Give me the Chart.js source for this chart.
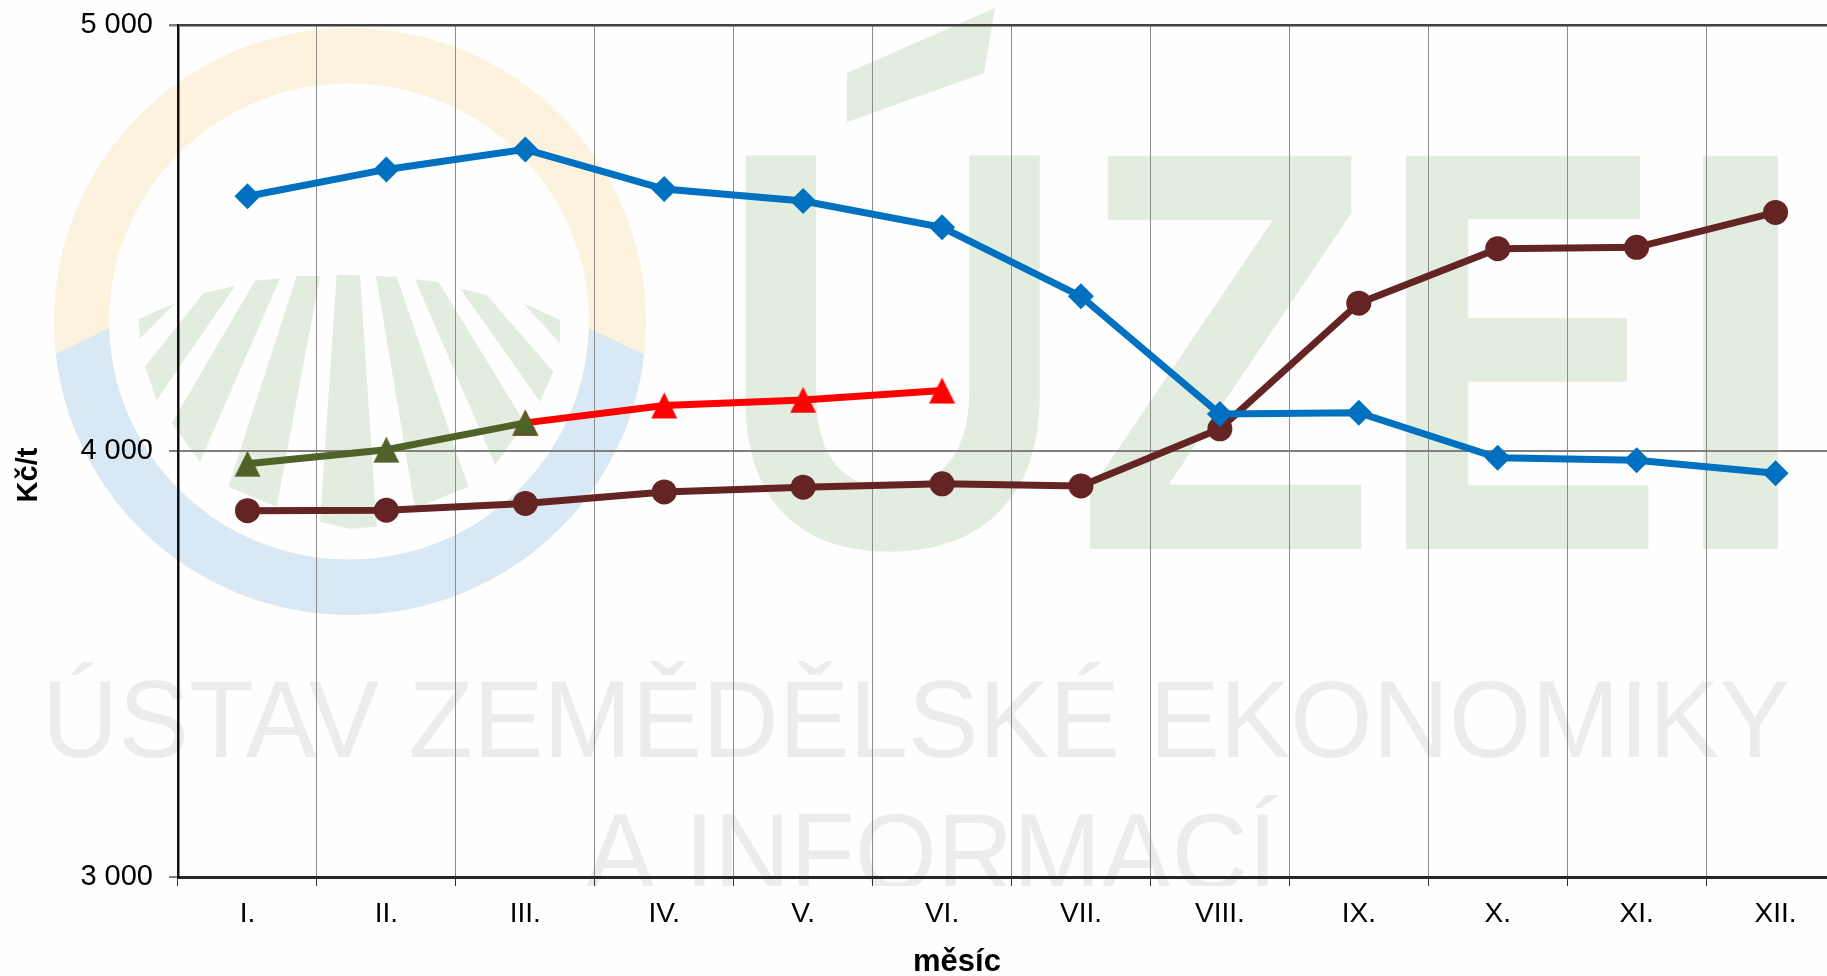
<!DOCTYPE html>
<html lang="cs">
<head>
<meta charset="utf-8">
<title>Kč/t podle měsíců</title>
<script src="https://cdn.jsdelivr.net/npm/chart.js@4"></script>
<style>
html,body{margin:0;padding:0;background:#fff;width:1827px;height:976px;overflow:hidden}
canvas{display:block}
</style>
</head>
<body>
<canvas id="c" width="1860" height="976" style="width:1860px;height:976px"></canvas>
<script>
const months = ['I.','II.','III.','IV.','V.','VI.','VII.','VIII.','IX.','X.','XI.','XII.'];
const blueValues  = [4598,4661,4708,4615,4587,4525,4363,4087,4090,3984,3978,3948];
const brownValues = [3860,3861,3877,3904,3915,3923,3918,4052,4347,4475,4478,4560];
const greenValues = [3970,4003,4066,null,null,null,null,null,null,null,null,null];
const redValues   = [null,null,4066,4107,4120,4142,null,null,null,null,null,null];
const yTickLabels = {3000:'3 000',4000:'4 000',5000:'5 000'};
const xTitle = 'měsíc';
const yTitle = 'Kč/t';

const FONT = '"Liberation Sans", Arial, sans-serif';

function triangleMarker(color){
  const c = document.createElement('canvas');
  c.width = 27; c.height = 27;
  const g = c.getContext('2d');
  g.fillStyle = color;
  g.beginPath(); g.moveTo(13.5,0.5); g.lineTo(26.5,26.5); g.lineTo(0.5,26.5); g.closePath(); g.fill();
  return c;
}

function fitGlyph(ctx, text, x0, y0, x1, y1, font){
  ctx.save();
  ctx.font = font;
  ctx.textAlign = 'left';
  ctx.textBaseline = 'alphabetic';
  const m = ctx.measureText(text);
  const w = m.actualBoundingBoxRight + m.actualBoundingBoxLeft;
  const h = m.actualBoundingBoxAscent + m.actualBoundingBoxDescent;
  ctx.translate(x0, y0);
  ctx.scale((x1-x0)/w, (y1-y0)/h);
  ctx.fillText(text, m.actualBoundingBoxLeft, m.actualBoundingBoxAscent);
  ctx.restore();
}

function poly(ctx, pts){
  ctx.beginPath();
  pts.forEach((p,i)=> i ? ctx.lineTo(p[0],p[1]) : ctx.moveTo(p[0],p[1]));
  ctx.closePath();
  ctx.fill();
}

const watermark = {
  id:'watermark',
  beforeDraw(chart){
    const ctx = chart.ctx;
    ctx.save();
    ctx.fillStyle = '#fefefe';
    ctx.fillRect(0,0,chart.width,chart.height);

    const ring = ()=>{
      ctx.beginPath();
      ctx.ellipse(350,321.5,296,293.5,0,0,Math.PI*2);
      ctx.ellipse(349,321.5,240,238,0,0,Math.PI*2,true);
    };
    ctx.fillStyle = '#fdf2de';
    ring(); ctx.fill('evenodd');
    ctx.save();
    ctx.beginPath();
    ctx.moveTo(30,367); ctx.lineTo(54,355); ctx.lineTo(109,328); ctx.lineTo(130,320);
    ctx.lineTo(570,320); ctx.lineTo(588,328); ctx.lineTo(646,355); ctx.lineTo(670,367);
    ctx.lineTo(670,640); ctx.lineTo(30,640); ctx.closePath();
    ctx.clip();
    ctx.fillStyle = '#d8e8f4';
    ring(); ctx.fill('evenodd');
    ctx.restore();

    ctx.fillStyle = '#e2eddf';
    const rays = [
      [[55,178],[165,130],[60,235]],
      [[75,320],[250,100],[345,78],[110,420]],
      [[405,62],[480,55],[240,605],[155,490]],
      [[530,48],[600,48],[470,740],[325,680]],
      [[650,45],[720,45],[770,800],[690,806],[600,785]],
      [[768,48],[830,50],[1045,680],[885,745]],
      [[885,58],[955,65],[1215,490],[1125,615]],
      [[1020,85],[1100,105],[1300,335],[1260,425]],
      [[1210,130],[1320,180],[1320,250]]
    ];
    rays.forEach(r=>poly(ctx, r.map(p=>[120+p[0]/3, 260+p[1]/3])));

    const big = 'bold 400px '+FONT;
    fitGlyph(ctx,'U',739,147,1045,555,big);
    poly(ctx,[[847,73],[995,8],[984,73],[847,122]]);
    fitGlyph(ctx,'Z',1083,147,1367,549,big);
    fitGlyph(ctx,'E',1404,147,1654,549,big);
    fitGlyph(ctx,'I',1701,147,1782,549,big);

    ctx.fillStyle = '#ececec';
    ctx.textAlign = 'left';
    ctx.textBaseline = 'alphabetic';
    ctx.font = '110px '+FONT;
    const line1 = 'ÚSTAV ZEMĚDĚLSKÉ EKONOMIKY';
    const w1 = ctx.measureText(line1).width;
    ctx.save();
    ctx.translate(42,757);
    ctx.scale(1748/w1,1);
    ctx.fillText(line1,0,0);
    ctx.restore();

    ctx.save();
    ctx.beginPath(); ctx.rect(0,0,chart.width,886); ctx.clip();
    const line2 = 'A INFORMACÍ';
    const w2 = ctx.measureText(line2).width;
    ctx.translate(585,890);
    ctx.scale(692/w2,1);
    ctx.fillText(line2,0,0);
    ctx.restore();
    ctx.restore();
  }
};

const axisTitles = {
  id:'axisTitles',
  afterDraw(chart){
    const ctx = chart.ctx;
    ctx.save();
    ctx.fillStyle = '#000';
    ctx.textAlign = 'center';
    ctx.textBaseline = 'middle';
    ctx.font = 'bold 31px '+FONT;
    ctx.fillText(xTitle,957,962);
    ctx.font = 'bold 29px '+FONT;
    ctx.translate(29,475);
    ctx.rotate(-Math.PI/2);
    ctx.fillText(yTitle,0,0);
    ctx.restore();
  }
};

const line = (label,data,color,style,radius,order)=>({
  label,data,order,
  borderColor:color,backgroundColor:color,
  borderWidth:7,
  pointStyle:style,pointRadius:radius,pointHoverRadius:radius,
  pointBackgroundColor:color,pointBorderColor:color,pointBorderWidth:0,
  spanGaps:false,tension:0,clip:false
});

new Chart(document.getElementById('c'),{
  type:'line',
  data:{
    labels:months,
    datasets:[
      line('modrá',blueValues,'#0070C0','rectRot',13,1),
      line('hnědá',brownValues,'#632423','circle',12.5,2),
      line('zelená',greenValues,'#4F6228',triangleMarker('#4F6228'),13,3),
      line('červená',redValues,'#FF0000',triangleMarker('#FF0000'),13,4)
    ]
  },
  plugins:[watermark,axisTitles],
  options:{
    responsive:false,
    animation:false,
    layout:{padding:{top:25,right:15,left:0,bottom:0}},
    plugins:{legend:{display:false},title:{display:false},tooltip:{enabled:false}},
    scales:{
      x:{
        type:'category',
        offset:true,
        afterFit(s){s.height=99;s.paddingLeft=0;s.paddingRight=0;},
        grid:{offset:true,color:'#8c8c8c',lineWidth:1,drawTicks:true,tickLength:9,tickColor:'#333',drawOnChartArea:true},
        border:{color:'#262626',width:3,z:1},
        ticks:{color:'#000',font:{family:FONT,size:28},padding:11,autoSkip:false,maxRotation:0,minRotation:0}
      },
      y:{
        min:3000,max:5000,
        afterFit(s){s.width=178;s.paddingTop=0;s.paddingBottom=0;},
        grid:{
          color:c=> c.tick && c.tick.value===5000 ? '#404040' : '#808080',
          lineWidth:c=> c.tick && c.tick.value===5000 ? 2.5 : 2,
          tickLength:9,tickColor:'#808080'
        },
        border:{color:'#111',width:2.5,z:1},
        ticks:{stepSize:1000,color:'#000',font:{family:FONT,size:29},padding:16,
          callback:v=>yTickLabels[v]}
      }
    }
  }
});
</script>
</body>
</html>
